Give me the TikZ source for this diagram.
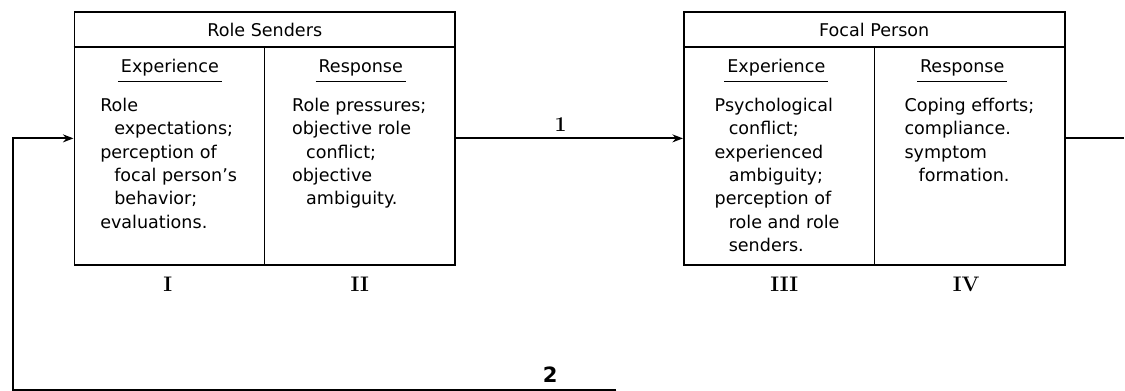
\documentclass[tikz,border=0pt]{standalone}
\usepackage{fontspec}
\setsansfont{DejaVu Sans}
\usetikzlibrary{arrows.meta, positioning, calc}
\newcommand{\ind}{\hspace*{8pt}}

\begin{document}
\begin{tikzpicture}[
    x=0.02cm, y=-0.02cm,
    epframe/.style={draw, line width=1.1pt, minimum width=7.62cm, minimum height=5.06cm, inner sep=0pt},
    eprule/.style={line width=0.8pt},
    ephead/.style={font=\sffamily\fontsize{10}{13.3}\selectfont, inner sep=0pt},
    epbody/.style={font=\sffamily\fontsize{10}{13.3}\selectfont, align=left,
                   inner sep=0pt, anchor=north west},
    epnum/.style={font=\rmfamily\bfseries\large},
    epflow/.style={-{Stealth[length=6pt, width=4.5pt]}, line width=1.1pt},
    epwire/.style={line width=1.1pt}
  ]
    % Role Senders
    \node[epframe] (snd) at (265,138.5) {};
    \node[ephead] (sndtitle) at (265,30) {Role Senders};
    \draw[eprule] ($(snd.north west)+(0,36)$) -- ($(snd.north east)+(0,36)$);
    \draw[eprule] ($(snd.north)+(0,36)$) -- (snd.south);

    \node[ephead, anchor=base] (sndexp) at (170,73) {Experience};
    \node[ephead, anchor=base] (sndres) at (361,73) {Response};
    \draw[eprule] ([shift={(-1.5pt,-5pt)}]sndexp.base west) -- ([shift={(1.5pt,-5pt)}]sndexp.base east);
    \draw[eprule] ([shift={(-1.5pt,-5pt)}]sndres.base west) -- ([shift={(1.5pt,-5pt)}]sndres.base east);

    \node[epbody] (sndexpbody) at (100,98)
      {Role\\\ind expectations;\\perception of\\\ind focal person's\\\ind behavior;\\evaluations.};
    \node[epbody] (sndresbody) at (292,98)
      {Role pressures;\\objective role\\\ind conflict;\\objective\\\ind ambiguity.};

    % Focal Person
    \node[epframe] (foc) at (875,138.5) {};
    \node[ephead] (foctitle) at (875,30) {Focal Person};
    \draw[eprule] ($(foc.north west)+(0,36)$) -- ($(foc.north east)+(0,36)$);
    \draw[eprule] ($(foc.north)+(0,36)$) -- (foc.south);

    \node[ephead, anchor=base] (focexp) at (777,73) {Experience};
    \node[ephead, anchor=base] (focres) at (963,73) {Response};
    \draw[eprule] ([shift={(-1.5pt,-5pt)}]focexp.base west) -- ([shift={(1.5pt,-5pt)}]focexp.base east);
    \draw[eprule] ([shift={(-1.5pt,-5pt)}]focres.base west) -- ([shift={(1.5pt,-5pt)}]focres.base east);

    \node[epbody] (focexpbody) at (715,98)
      {Psychological\\\ind conflict;\\experienced\\\ind ambiguity;\\perception of\\\ind role and role\\\ind senders.};
    \node[epbody] (focresbody) at (905,98)
      {Coping efforts;\\compliance.\\symptom\\\ind formation.};

    % numerals under the columns
    \node[epnum] (numI)   at (168,285) {I};
    \node[epnum] (numII)  at (360,285) {II};
    \node[epnum] (numIII) at (785,285) {III};
    \node[epnum] (numIV)  at (967,285) {IV};

    % connectors
    \draw[epflow] (snd.east) -- node[epnum, above, pos=0.46] {1} (foc.west);

    \coordinate (focout) at (1125,138.5);
    \draw[epwire] (foc.east) -- (focout);

    \coordinate (fbend) at (617,390);
    \coordinate (fbcorner) at (13,390);
    \draw[epflow] (fbend) -- node[font=\sffamily\bfseries\large, above, pos=0.11] {2} (fbcorner) |- (snd.west);

    \useasboundingbox (0,0) rectangle (1125,391);
  \end{tikzpicture}
\end{document}
